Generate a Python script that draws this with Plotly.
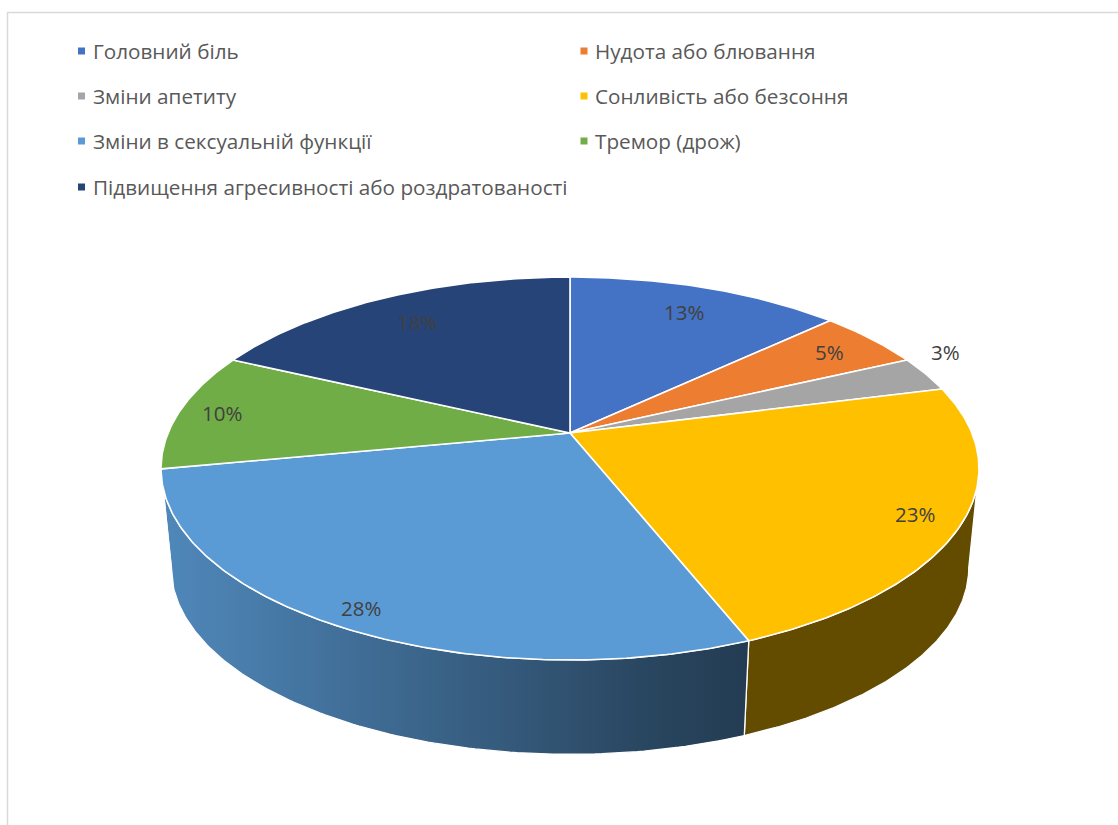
import numpy as np
import plotly.graph_objects as go

# Side effects data (share of responses, %)
categories = [
    "Головний біль",
    "Нудота або блювання",
    "Зміни апетиту",
    "Сонливість або безсоння",
    "Зміни в сексуальній функції",
    "Тремор (дрож)",
    "Підвищення агресивності або роздратованості",
]
values = [13, 5, 3, 23, 28, 10, 18]
colors = ["#4472C4", "#ED7D31", "#A5A5A5", "#FFC000", "#5B9BD5", "#70AD47", "#264478"]

# ---- geometry of the tilted 3D pie (screen pixels, y downward) ----
W, H = 1118, 825
CX, CY = 570.0, 433.0        # projected centre of the top face
A, B, K = 401.9, 184.9, 0.1854  # horizontal / vertical scale, perspective factor
DEPTH, BOTTOM_SCALE = 100.0, 0.975
TEXT_FONT = "Open Sans"


def project(phi, r=1.0, scale=1.0, dy=0.0):
    """Project a point of the pie disk (angle clockwise from 12 o'clock) to the screen."""
    u = r * np.sin(phi)
    v = r * np.cos(phi)
    w = 1.0 + K * v
    return CX + scale * A * u / w, CY + dy - scale * B * v / w


def shade(hex_color, f):
    h = hex_color.lstrip("#")
    rgb = [int(h[i:i + 2], 16) for i in (0, 2, 4)]
    return "rgb(%d,%d,%d)" % tuple(int(round(c * f)) for c in rgb)


def side_light(x):
    # walls facing left are lit, walls facing right stay in shadow
    return float(np.clip(0.521 - 0.3556 * (x - CX) / 409.0, 0.39, 0.9))


total = float(sum(values))
bounds = np.concatenate([[0.0], np.cumsum(values) / total]) * 2 * np.pi

# visible (front) part of the cylinder wall, between the two silhouette angles
front_lo = np.arccos(-K)
front_hi = 2 * np.pi - np.arccos(-K)

fig = go.Figure()

# ---- side walls ----
for i, col in enumerate(colors):
    a0 = max(bounds[i], front_lo)
    a1 = min(bounds[i + 1], front_hi)
    if a1 - a0 < 1e-3:
        continue
    t = np.linspace(a0, a1, 120)
    xt, yt = project(t)
    xb, yb = project(t[::-1], scale=BOTTOM_SCALE, dy=DEPTH)
    xs = np.concatenate([xt, xb, xt[:1]])
    ys = np.concatenate([yt, yb, yt[:1]])
    x_min, x_max = xs.min(), xs.max()
    stops = np.linspace(0, 1, 8)
    cscale = [[float(s), shade(col, side_light(x_min + s * (x_max - x_min)))] for s in stops]
    fig.add_trace(go.Scatter(
        x=xs, y=ys, mode="lines", fill="toself",
        fillgradient=dict(type="horizontal", colorscale=cscale),
        line=dict(color="white", width=1.3),
        hoverinfo="skip", showlegend=False,
    ))

# ---- top face slices ----
for i, (name, col) in enumerate(zip(categories, colors)):
    t = np.linspace(bounds[i], bounds[i + 1], max(8, int(values[i] * 6)))
    xa, ya = project(t)
    xs = np.concatenate([[CX], xa, [CX]])
    ys = np.concatenate([[CY], ya, [CY]])
    fig.add_trace(go.Scatter(
        x=xs, y=ys, mode="lines", fill="toself", fillcolor=col,
        line=dict(color="white", width=1.6),
        name=name, hoverinfo="name", showlegend=False,
    ))

# ---- data labels ----
label_r = [0.81, 0.85, 1.0, 0.89, 0.92, 0.89, 0.80]
annotations = []
for i, v in enumerate(values):
    mid = 0.5 * (bounds[i] + bounds[i + 1])
    lx, ly = project(mid, r=label_r[i])
    outside = label_r[i] >= 1.0
    annotations.append(dict(
        x=lx, y=ly, xref="x", yref="y", text=f"{v}%", showarrow=False,
        font=dict(family=TEXT_FONT, size=20.5, color="#404040"),
        xanchor="left" if outside else "center",
        yanchor="bottom" if outside else "middle",
        xshift=3 if outside else 0, yshift=6 if outside else 0,
    ))

# ---- legend (two columns) ----
leg_col_x = [81.5, 584.0]
leg_row_y = [51.0, 96.0, 141.0, 187.0]
mx, my = [], []
for i, name in enumerate(categories):
    x0 = leg_col_x[i % 2]
    y0 = leg_row_y[i // 2]
    mx.append(x0)
    my.append(y0)
    annotations.append(dict(
        x=x0 + 9, y=y0, xref="x", yref="y", text=name, showarrow=False,
        xanchor="left", yanchor="middle",
        font=dict(family=TEXT_FONT, size=20.7, color="#595959"),
    ))
fig.add_trace(go.Scatter(
    x=mx, y=my, mode="markers",
    marker=dict(symbol="square", size=7, color=colors, line=dict(width=0)),
    hoverinfo="skip", showlegend=False,
))

fig.update_layout(
    width=W, height=H,
    margin=dict(l=0, r=0, t=0, b=0),
    paper_bgcolor="white", plot_bgcolor="white",
    xaxis=dict(range=[0, W], visible=False, fixedrange=True),
    yaxis=dict(range=[H, 0], visible=False, fixedrange=True),
    annotations=annotations,
    shapes=[dict(
        type="rect", xref="paper", yref="paper",
        x0=7.5 / W, x1=1.05, y0=1 - 12.5 / H, y1=-0.05,
        line=dict(color="#D9D9D9", width=1.5), layer="below",
    )],
    showlegend=False,
)

fig.write_html("out.html")
